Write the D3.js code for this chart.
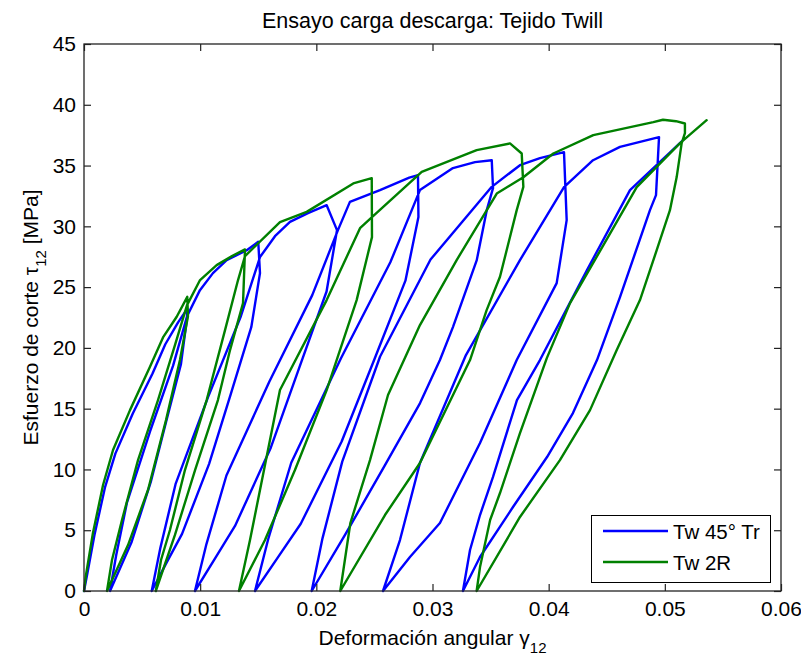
<!DOCTYPE html>
<html>
<head>
<meta charset="utf-8">
<script src="https://cdn.jsdelivr.net/npm/d3@7"></script>
<style>
  body { margin: 0; background: #fff; }
  text { font-family: "Liberation Sans", Arial, sans-serif; fill: #000; }
</style>
</head>
<body>
<div id="chart"></div>
<script>
// ejes
const xTicks = [0, 0.01, 0.02, 0.03, 0.04, 0.05, 0.06];
const xTickLabels = ["0", "0.01", "0.02", "0.03", "0.04", "0.05", "0.06"];
const yTicks = [0, 5, 10, 15, 20, 25, 30, 35, 40, 45];
const yTickLabels = ["0", "5", "10", "15", "20", "25", "30", "35", "40", "45"];
const seriesNames = ["Tw 45° Tr", "Tw 2R"];
const seriesColors = ["#0000ff", "#008000"];

// Tw 45° Tr : [deformacion, esfuerzo] ciclos carga / descarga
const tw45Tr = [
  [0, 0], [0.0003, 1.5], [0.0009, 4.6], [0.0018, 8.5], [0.0027, 11.3], [0.0042, 14.6],
  [0.0059, 17.9], [0.0070, 20.3], [0.0081, 22.1], [0.00887, 23.19], [0.00887, 22.45],
  [0.00834, 18.63], [0.00707, 13.92], [0.00575, 8.98], [0.00410, 4.04], [0.00317, 2.02], [0.00224, 0],
  [0.00277, 2.94], [0.00369, 7.24], [0.00568, 13.12], [0.00767, 18.54], [0.00887, 22.6],
  [0.00998, 24.75], [0.01110, 26.15], [0.01228, 27.22], [0.01401, 28.04], [0.0150, 28.73], [0.01515, 26.15],
  [0.01440, 21.70], [0.01264, 16.22], [0.01077, 10.46], [0.00844, 4.70], [0.00712, 2.35], [0.00583, 0],
  [0.00658, 3.57], [0.00788, 8.79], [0.01067, 15.93], [0.01347, 22.52], [0.01515, 27.47],
  [0.01644, 29.19], [0.01773, 30.37], [0.01928, 31.09], [0.02089, 31.74], [0.02178, 29.69],
  [0.02088, 24.64], [0.01854, 18.40], [0.01608, 11.79], [0.01300, 5.35], [0.01127, 2.67], [0.00955, 0],
  [0.01054, 3.86], [0.01226, 9.50], [0.01595, 17.22], [0.01965, 24.34], [0.02186, 29.69],
  [0.02289, 32.01], [0.02548, 32.98], [0.02800, 34.0], [0.02875, 34.21], [0.02879, 30.76],
  [0.02767, 25.53], [0.02500, 19.07], [0.02218, 12.30], [0.01866, 5.53], [0.01669, 2.77], [0.01472, 0],
  [0.01586, 4.28], [0.01784, 10.55], [0.02211, 19.13], [0.02637, 27.04], [0.02892, 32.98],
  [0.03176, 34.79], [0.03366, 35.28], [0.0351, 35.44], [0.03521, 33.14],
  [0.03467, 31.33], [0.03381, 27.22], [0.03176, 21.71], [0.03064, 19.00], [0.02893, 15.46],
  [0.02591, 10.36], [0.02247, 4.61], [0.0196, 0],
  [0.02053, 4.33], [0.02223, 10.64], [0.02549, 19.29], [0.02983, 27.27], [0.0351, 33.25],
  [0.03753, 35.03], [0.03925, 35.61], [0.04132, 36.10], [0.04155, 30.51],
  [0.04069, 25.33], [0.03725, 19.0], [0.03409, 12.17], [0.03064, 5.59], [0.02806, 2.80], [0.02574, 0],
  [0.02720, 4.19], [0.02892, 10.53], [0.03288, 19.41], [0.03753, 27.22], [0.04132, 33.22],
  [0.04382, 35.44], [0.04614, 36.54], [0.0495, 37.34], [0.04924, 32.57],
  [0.04872, 31.33], [0.04614, 24.18], [0.04416, 19.00], [0.04209, 14.64], [0.03986, 11.02],
  [0.03693, 6.91], [0.03409, 2.80], [0.03262, 0],
  [0.03323, 3.37], [0.03409, 6.25], [0.03521, 9.38], [0.03727, 15.71], [0.03925, 19.00],
  [0.04330, 26.40], [0.04700, 32.98], [0.05148, 37.01]
];

// Tw 2R
const tw2R = [
  [0, 0], [0.00017, 1.32], [0.00077, 4.77], [0.00164, 8.72], [0.0025, 11.6], [0.00396, 14.88],
  [0.00568, 18.45], [0.00683, 20.91], [0.00798, 22.56], [0.00889, 24.2], [0.00895, 22.6],
  [0.00826, 19.0], [0.00706, 14.06], [0.00551, 8.31], [0.00379, 3.78], [0.00198, 0],
  [0.00241, 2.55], [0.00327, 5.84], [0.00465, 10.77], [0.00637, 15.71], [0.00783, 20.23], [0.00887, 23.52],
  [0.00999, 25.58], [0.01142, 26.81], [0.01274, 27.55], [0.01386, 28.1], [0.01369, 23.68],
  [0.01257, 19.82], [0.01153, 15.71], [0.00956, 9.95], [0.00783, 4.61], [0.00618, 0],
  [0.00663, 2.55], [0.0074, 5.02], [0.00869, 9.95], [0.01056, 15.71], [0.01214, 21.46],
  [0.01326, 25.58], [0.01386, 27.55],
  [0.01687, 30.35], [0.01917, 31.19], [0.02318, 33.53], [0.02477, 33.96], [0.02479, 29.11],
  [0.02347, 23.93], [0.02089, 16.53], [0.01816, 9.95], [0.01558, 4.19], [0.01334, 0],
  [0.01429, 4.19], [0.01515, 8.31], [0.01687, 16.53], [0.02089, 23.93], [0.02376, 29.85],
  [0.02479, 30.76], [0.02907, 34.48], [0.0338, 36.27], [0.03667, 36.82], [0.03768, 35.99], [0.03782, 33.25],
  [0.03725, 31.33], [0.03581, 25.85], [0.03466, 23.11], [0.03323, 19.00], [0.02892, 10.53],
  [0.02591, 6.25], [0.02206, 0],
  [0.02293, 5.59], [0.02462, 10.77], [0.02617, 16.12], [0.02892, 21.88], [0.03208, 27.22],
  [0.03553, 32.70], [0.03782, 34.04],
  [0.0404, 35.99], [0.04384, 37.50], [0.04901, 38.57], [0.04984, 38.77], [0.05096, 38.65], [0.05173, 38.46],
  [0.05173, 37.66], [0.05145, 36.84], [0.05102, 34.05], [0.05044, 31.33], [0.04930, 28.04],
  [0.04786, 23.93], [0.04586, 19.82], [0.04356, 14.88], [0.04097, 10.77], [0.03753, 6.09], [0.03380, 0],
  [0.03409, 1.97], [0.03496, 5.84], [0.03581, 8.06], [0.03753, 12.99], [0.03984, 19.16],
  [0.04184, 23.68], [0.04758, 33.22], [0.05131, 36.84], [0.05360, 38.73]
];

const width = 801;
const height = 659;
const margin = { top: 44, right: 20, bottom: 68, left: 84 };
const fontSize = 21;

const svg = d3.select("#chart").append("svg")
  .attr("width", width)
  .attr("height", height);

const x = d3.scaleLinear().domain([0, 0.06]).range([margin.left, width - margin.right]);
const y = d3.scaleLinear().domain([0, 45]).range([height - margin.bottom, margin.top]);

// curvas (la verde queda encima)
const line = d3.line().x(d => x(d[0])).y(d => y(d[1]));
[tw45Tr, tw2R].forEach((serie, i) => {
  svg.append("path")
    .datum(serie)
    .attr("fill", "none")
    .attr("stroke", seriesColors[i])
    .attr("stroke-width", 2.4)
    .attr("stroke-linejoin", "round")
    .attr("stroke-linecap", "round")
    .attr("d", line);
});

// ejes con marcas hacia dentro, estilo matlab
const tick = 7;
const gx = svg.append("g")
  .attr("transform", `translate(0,${y(0)})`)
  .call(d3.axisBottom(x).tickValues(xTicks).tickFormat((d, i) => xTickLabels[i])
    .tickSizeInner(-tick).tickSizeOuter(0).tickPadding(10));
const gxTop = svg.append("g")
  .attr("transform", `translate(0,${y(45)})`)
  .call(d3.axisTop(x).tickValues(xTicks).tickFormat("").tickSizeInner(-tick).tickSizeOuter(0));
const gy = svg.append("g")
  .attr("transform", `translate(${x(0)},0)`)
  .call(d3.axisLeft(y).tickValues(yTicks).tickFormat((d, i) => yTickLabels[i])
    .tickSizeInner(-tick).tickSizeOuter(0).tickPadding(8));
const gyRight = svg.append("g")
  .attr("transform", `translate(${x(0.06)},0)`)
  .call(d3.axisRight(y).tickValues(yTicks).tickFormat("").tickSizeInner(-tick).tickSizeOuter(0));

[gx, gxTop, gy, gyRight].forEach(g => {
  g.select(".domain").remove();
  g.selectAll("line").attr("stroke", "#222").attr("stroke-width", 1.2);
  g.selectAll("text").attr("font-size", fontSize).attr("font-family", "Liberation Sans, Arial, sans-serif").attr("fill", "#000");
});

svg.append("rect")
  .attr("x", x(0)).attr("y", y(45))
  .attr("width", x(0.06) - x(0)).attr("height", y(0) - y(45))
  .attr("fill", "none").attr("stroke", "#222").attr("stroke-width", 1.3);

// titulo y etiquetas
svg.append("text")
  .attr("x", 262).attr("y", 28)
  .attr("font-size", 21.5)
  .text("Ensayo carga descarga: Tejido Twill");

const xlab = svg.append("text")
  .attr("x", (x(0) + x(0.06)) / 2).attr("y", 645)
  .attr("text-anchor", "middle").attr("font-size", fontSize);
xlab.append("tspan").text("Deformación angular γ");
xlab.append("tspan").attr("font-size", 15).attr("dy", 8).text("12");

const ylab = svg.append("text")
  .attr("transform", `translate(38,${(y(0) + y(45)) / 2}) rotate(-90)`)
  .attr("text-anchor", "middle").attr("font-size", fontSize);
ylab.append("tspan").text("Esfuerzo de corte τ");
ylab.append("tspan").attr("font-size", 15).attr("dy", 8).text("12");
ylab.append("tspan").attr("dy", -8).text(" [MPa]");

// leyenda
const lg = svg.append("g").attr("transform", `translate(${x(0.06) - 190},${y(0) - 76})`);
lg.append("rect").attr("x", 0.5).attr("y", 0.5).attr("width", 179).attr("height", 67)
  .attr("fill", "#fff").attr("stroke", "#000").attr("stroke-width", 1);
seriesNames.forEach((name, i) => {
  const yy = 16 + i * 31;
  lg.append("line").attr("x1", 12).attr("x2", 77).attr("y1", yy).attr("y2", yy)
    .attr("stroke", seriesColors[i]).attr("stroke-width", 2.6);
  lg.append("text").attr("x", 82).attr("y", yy + 7.5).attr("font-size", 20.5).text(name);
});
</script>
</body>
</html>
